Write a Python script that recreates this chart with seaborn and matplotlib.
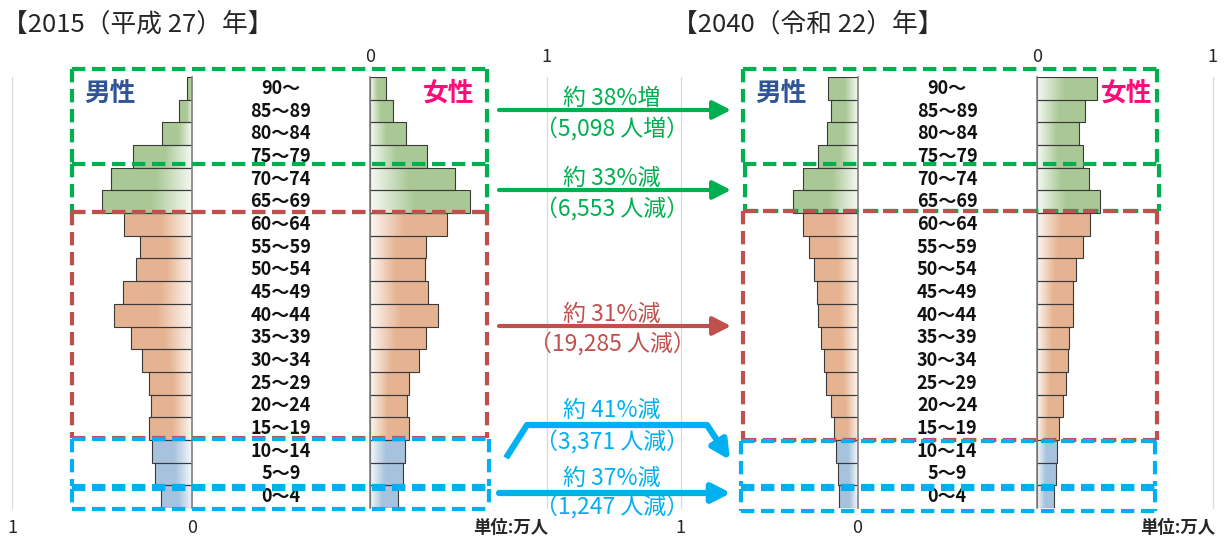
import matplotlib
matplotlib.use('Agg')
import matplotlib.pyplot as plt
import matplotlib.transforms as mtransforms
import numpy as np
import pandas as pd
import seaborn as sns

sns.set_style('white')
plt.rcParams['font.family'] = ['Noto Sans CJK JP', 'DejaVu Sans']

# age groups, top to bottom
ages = ['90～', '85～89', '80～84', '75～79', '70～74', '65～69', '60～64', '55～59',
        '50～54', '45～49', '40～44', '35～39', '30～34', '25～29', '20～24', '15～19',
        '10～14', '5～9', '0～4']
groups = ['65歳以上'] * 6 + ['15～64歳'] * 10 + ['0～14歳'] * 3

# population (万人)
male_2015 = [0.029, 0.073, 0.164, 0.327, 0.451, 0.500, 0.376, 0.289, 0.311, 0.380,
             0.431, 0.340, 0.276, 0.240, 0.227, 0.238, 0.220, 0.202, 0.173]
female_2015 = [0.094, 0.134, 0.205, 0.324, 0.484, 0.565, 0.435, 0.317, 0.312, 0.330,
               0.386, 0.319, 0.279, 0.223, 0.212, 0.223, 0.200, 0.190, 0.158]
male_2040 = [0.167, 0.149, 0.171, 0.221, 0.309, 0.366, 0.311, 0.272, 0.248, 0.232,
             0.226, 0.204, 0.191, 0.178, 0.149, 0.136, 0.123, 0.112, 0.103]
female_2040 = [0.344, 0.272, 0.241, 0.261, 0.296, 0.360, 0.303, 0.261, 0.222, 0.204,
               0.204, 0.186, 0.180, 0.169, 0.147, 0.129, 0.116, 0.107, 0.099]

titles = ['【2015（平成 27）年】', '【2040（令和 22）年】']
change_pct = ['約 38%増', '約 33%減', '約 31%減', '約 41%減', '約 37%減']
change_num = ['（5,098 人増）', '（6,553 人減）', '（19,285 人減）', '（3,371 人減）', '（1,247 人減）']

GREEN, RED, BLUE = '#00b050', '#c0504d', '#00b0f0'
group_colors = {'65歳以上': '#a9d18e', '15～64歳': '#f4b183', '0～14歳': '#9dc3e6'}
change_colors = [GREEN, GREEN, RED, BLUE, BLUE]

W, H = 1227, 541
fig = plt.figure(figsize=(W / 100, H / 100), dpi=100)


def px_axes(x0, x1, y0=77, y1=508):
    return fig.add_axes([x0 / W, (H - y1) / H, (x1 - x0) / W, (y1 - y0) / H])


def pyramid_side(ax, values, side):
    df = pd.DataFrame({'age': ages, 'value': values, 'group': groups})
    sns.barplot(data=df, x='value', y='age', hue='group', palette=group_colors,
                orient='h', dodge=False, width=1.0, edgecolor='#3a3a3a',
                linewidth=0.8, legend=False, ax=ax)
    # gradient fill: pale at the axis, full colour toward the outer end
    f = np.linspace(0, 1, 200)
    mix = np.interp(f, [0, 0.45, 1], [0.9, 0.0, 0.0])
    for p in list(ax.patches):
        base = np.array(p.get_facecolor()[:3])
        rgb = base[None, :] * (1 - mix[:, None]) + mix[:, None]
        y, h, w = p.get_y(), p.get_height(), p.get_width()
        im = ax.imshow(rgb[None, :, :], extent=(0, w, y + h, y), aspect='auto',
                       interpolation='bilinear', zorder=1)
        im.set_clip_path(p)
        p.set_facecolor('none')
        p.set_zorder(2)
    ax.set_ylim(len(ages) - 0.5, -0.5)
    ax.set_xlim((1, 0) if side == 'male' else (0, 1))
    ax.axvline(1, color='#d9d9d9', lw=0.9, zorder=0, clip_on=False)
    ax.set_xticks([0, 1])
    ax.set_xticklabels(['0', '1'])
    ax.set_yticks([])
    ax.set_xlabel('')
    ax.set_ylabel('')
    ax.tick_params(axis='x', length=0, pad=8, labelsize=13)
    for s in ax.spines.values():
        s.set_visible(False)
    zero = 'right' if side == 'male' else 'left'
    ax.spines[zero].set_visible(True)
    ax.spines[zero].set_color('#808080')
    ax.spines[zero].set_linewidth(1.2)
    if side == 'female':
        ax.xaxis.tick_top()


panels = [(12, 191.8, 369.7, 546.5, male_2015, female_2015),
          (680.5, 857.6, 1036.7, 1212.5, male_2040, female_2040)]
for (m0, m1, f0, f1, mv, fv) in panels:
    axm = px_axes(m0, m1)
    axf = px_axes(f0, f1)
    pyramid_side(axm, mv, 'male')
    pyramid_side(axf, fv, 'female')
    tr = mtransforms.blended_transform_factory(fig.transFigure, axm.transData)
    xc = (m1 + f0) / 2 / W
    for i, a in enumerate(ages):
        axm.text(xc, i, a, transform=tr, ha='center', va='center', fontsize=13,
                 fontweight='bold', color='#111111', clip_on=False, zorder=3)

# overlay in pixel coordinates for frames, arrows and annotations
ov = fig.add_axes([0, 0, 1, 1], zorder=5)
ov.set_xlim(0, W)
ov.set_ylim(H, 0)
ov.axis('off')

ov.text(2, 25, titles[0], fontsize=18.5, ha='left', va='center')
ov.text(672, 25, titles[1], fontsize=18.5, ha='left', va='center')

for xm, xf in [(110, 449), (781, 1127)]:
    ov.text(xm, 93, '男性', color='#2f5597', fontsize=18.5, fontweight='bold', ha='center', va='center')
    ov.text(xf, 93, '女性', color='#ff0a78', fontsize=18.5, fontweight='bold', ha='center', va='center')

ov.text(511, 528, '単位:万人', fontsize=12.5, fontweight='bold', ha='center', va='center')
ov.text(1178, 528, '単位:万人', fontsize=12.5, fontweight='bold', ha='center', va='center')

dash = (0, (3.2, 1.6))
# x0, x1, top, bottom, colour, draw top edge
frames = [
    (72, 487, 69, 164, GREEN, True), (72, 487, 164, 212, GREEN, False),
    (72, 487, 212, 438, RED, True), (72, 489, 439, 486, BLUE, True), (72, 489, 489, 509, BLUE, True),
    (743, 1157, 69, 164, GREEN, True), (745, 1159, 164, 211, GREEN, False),
    (743, 1157, 211, 440, RED, True), (741, 1155, 441, 486, BLUE, True), (741, 1155, 489, 511, BLUE, True),
]
for x0, x1, y0, y1, c, top in frames:
    kw = dict(color=c, lw=3, linestyle=dash, solid_capstyle='butt', dash_capstyle='butt')
    if top:
        ov.plot([x0, x1], [y0, y0], **kw)
    ov.plot([x0, x1], [y1, y1], **kw)
    ov.plot([x0, x0], [y0, y1], **kw)
    ov.plot([x1, x1], [y0, y1], **kw)

arrow_kw = dict(arrowstyle='-|>,head_length=0.55,head_width=0.28', shrinkA=0, shrinkB=0,
                mutation_scale=20)
arrow_y = [110, 190, 326, None, 493]
text_y = [(98, 130), (178, 210), (314, 345), (410, 443), (478, 508)]
for k in range(5):
    c = change_colors[k]
    lw = 3 if c != BLUE else 4.5
    if arrow_y[k] is not None:
        ov.annotate('', xy=(731, arrow_y[k]), xytext=(499, arrow_y[k]),
                    arrowprops=dict(color=c, lw=lw, **arrow_kw))
    else:
        ov.plot([506, 527, 707], [458, 425, 425], color=c, lw=lw, solid_capstyle='butt')
        ov.annotate('', xy=(730, 460), xytext=(707, 425),
                    arrowprops=dict(color=c, lw=lw, **arrow_kw))
    ov.text(612, text_y[k][0], change_pct[k], color=c, fontsize=16.5, ha='center', va='center')
    ov.text(612, text_y[k][1], change_num[k], color=c, fontsize=16.5, ha='center', va='center')

fig.savefig('out.png', dpi=100)
